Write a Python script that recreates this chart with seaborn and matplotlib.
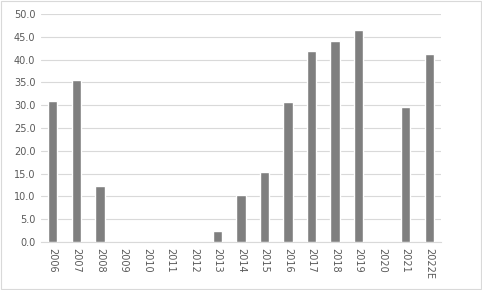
import matplotlib
matplotlib.use("Agg")
import matplotlib.pyplot as plt
import seaborn as sns
import pandas as pd
from matplotlib.patches import Rectangle

years = ["2006", "2007", "2008", "2009", "2010", "2011", "2012", "2013", "2014",
         "2015", "2016", "2017", "2018", "2019", "2020", "2021", "2022E"]
values = [31.0, 35.6, 12.2, 0, 0, 0, 0, 2.5, 10.4, 15.3, 30.8, 41.8, 44.0, 46.4, 0, 29.5, 41.2]
yticks = [0, 5, 10, 15, 20, 25, 30, 35, 40, 45, 50]

df = pd.DataFrame({"year": years, "value": values})

sns.set_theme(style="white")
plt.rcParams['font.family'] = ['DejaVu Sans']

fig = plt.figure(figsize=(4.82, 2.90), dpi=100)
ax = fig.add_axes([0.085, 0.1655, 0.83, 0.7865])

sns.barplot(data=df, x="year", y="value", color="#7f7f7f", saturation=1,
            width=0.4, ax=ax, zorder=3)

ax.set_ylim(0, 50)
ax.set_yticks(yticks)
ax.set_yticklabels([f"{v:.1f}" for v in yticks], color="#595959", fontsize=7)
ax.set_xlim(-0.5, len(years) - 0.5)
ax.set_xticks(range(len(years)))
ax.set_xticklabels(years, rotation=270, color="#595959", fontsize=7)
ax.tick_params(axis="both", length=0, pad=4)
ax.set_xlabel("")
ax.set_ylabel("")
ax.yaxis.grid(True, color="#d9d9d9", linewidth=0.8, zorder=0)
for s in ["top", "right", "left"]:
    ax.spines[s].set_visible(False)
ax.spines["bottom"].set_color("#d9d9d9")
ax.spines["bottom"].set_linewidth(0.8)

fig.patches.append(Rectangle((0.002, 0.003), 0.996, 0.994, transform=fig.transFigure,
                             fill=False, edgecolor="#d9d9d9", linewidth=0.8))

fig.savefig("out.png", dpi=100)
